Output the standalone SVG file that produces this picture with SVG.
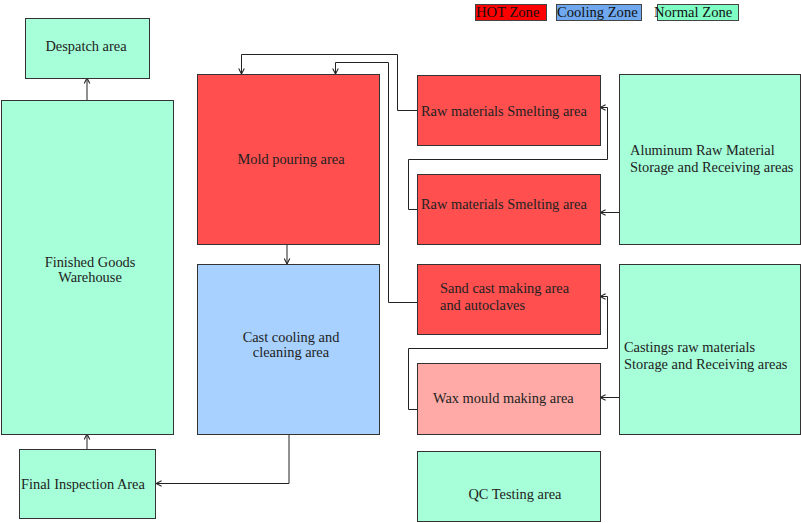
<svg xmlns="http://www.w3.org/2000/svg" width="801" height="523" viewBox="0 0 801 523">
<defs>
<style>
.n{stroke:#333;stroke-width:1}
.hot{fill:#ff4f4f}
.cool{fill:#a8d1ff}
.norm{fill:#a6ffd9}
.wax{fill:#ffaaa6}
text{font-family:"Liberation Serif","Times New Roman",serif;font-size:14.4px;fill:#222}
.lg{font-size:14.6px;fill:#111}
.c{stroke:#222;stroke-width:1;fill:none;marker-end:url(#ah)}
</style>
<marker id="ah" viewBox="0 0 10 10" refX="9" refY="5" markerWidth="7" markerHeight="7" orient="auto" markerUnits="userSpaceOnUse">
<path d="M1,1 L9,5 L1,9" fill="none" stroke="#222" stroke-width="1.5"/>
</marker>
</defs>
<rect width="801" height="523" fill="#fff"/>
<g id="legend">
<rect x="475.5" y="4.5" width="71" height="16" fill="#ff0000" stroke="#444"/>
<text class="lg" x="476" y="17">HOT Zone</text>
<rect x="556.5" y="4.5" width="85" height="16" fill="#6fa8ee" stroke="#444"/>
<text class="lg" x="557" y="17">Cooling Zone</text>
<rect x="657.5" y="4.5" width="81" height="16" fill="#7fffc4" stroke="#444"/>
<text class="lg" x="654" y="17">Normal Zone</text>
</g>
<g id="connectors">
<path class="c" d="M87,100 V78"/>
<path class="c" d="M87,449 V434"/>
<path class="c" d="M287,244 V264"/>
<path class="c" d="M289,434 V483.5 H156"/>
<path class="c" d="M417,110.5 H397.5 V54.5 H241.5 V74"/>
<path class="c" d="M417,302.5 H388.5 V62.5 H335.5 V74"/>
<path class="c" d="M417,209.5 H408.5 V159.5 H607.5 V107.5 H600"/>
<path class="c" d="M417,409.5 H408.5 V348.5 H607.5 V296.5 H600"/>
<path class="c" d="M619,212.5 H600"/>
<path class="c" d="M619,397.5 H600"/>
</g>
<g id="despatch"><rect class="n norm" x="25.5" y="18.5" width="124" height="60"/><text x="86" y="51" text-anchor="middle">Despatch area</text></g>
<g id="warehouse"><rect class="n norm" x="1.5" y="100.5" width="172" height="334"/><text x="90" y="267" text-anchor="middle">Finished Goods</text><text x="90" y="282" text-anchor="middle">Warehouse</text></g>
<g id="inspection"><rect class="n norm" x="19.5" y="449.5" width="136" height="69"/><text x="21" y="489">Final Inspection Area</text></g>
<g id="mold"><rect class="n hot" x="197.5" y="74.5" width="182" height="170"/><text x="291" y="164" text-anchor="middle">Mold pouring area</text></g>
<g id="cooling"><rect class="n cool" x="197.5" y="264.5" width="182" height="170"/><text x="291" y="342" text-anchor="middle">Cast cooling and</text><text x="291" y="357" text-anchor="middle">cleaning area</text></g>
<g id="smelt1"><rect class="n hot" x="417.5" y="75.5" width="183" height="70"/><text x="421" y="116">Raw materials Smelting area</text></g>
<g id="smelt2"><rect class="n hot" x="417.5" y="174.5" width="183" height="70"/><text x="421" y="209">Raw materials Smelting area</text></g>
<g id="sand"><rect class="n hot" x="417.5" y="264.5" width="183" height="70"/><text x="440" y="293">Sand cast making area</text><text x="440" y="310">and autoclaves</text></g>
<g id="wax"><rect class="n wax" x="417.5" y="363.5" width="183" height="71"/><text x="433" y="403">Wax mould making area</text></g>
<g id="qc"><rect class="n norm" x="417.5" y="451.5" width="183" height="70"/><text x="515" y="499" text-anchor="middle">QC Testing area</text></g>
<g id="aluminum"><rect class="n norm" x="619.5" y="74.5" width="181" height="170"/><text x="630" y="155">Aluminum Raw Material</text><text x="630" y="172">Storage and Receiving areas</text></g>
<g id="castings"><rect class="n norm" x="619.5" y="264.5" width="181" height="170"/><text x="624" y="352">Castings raw materials</text><text x="624" y="369">Storage and Receiving areas</text></g>
</svg>
